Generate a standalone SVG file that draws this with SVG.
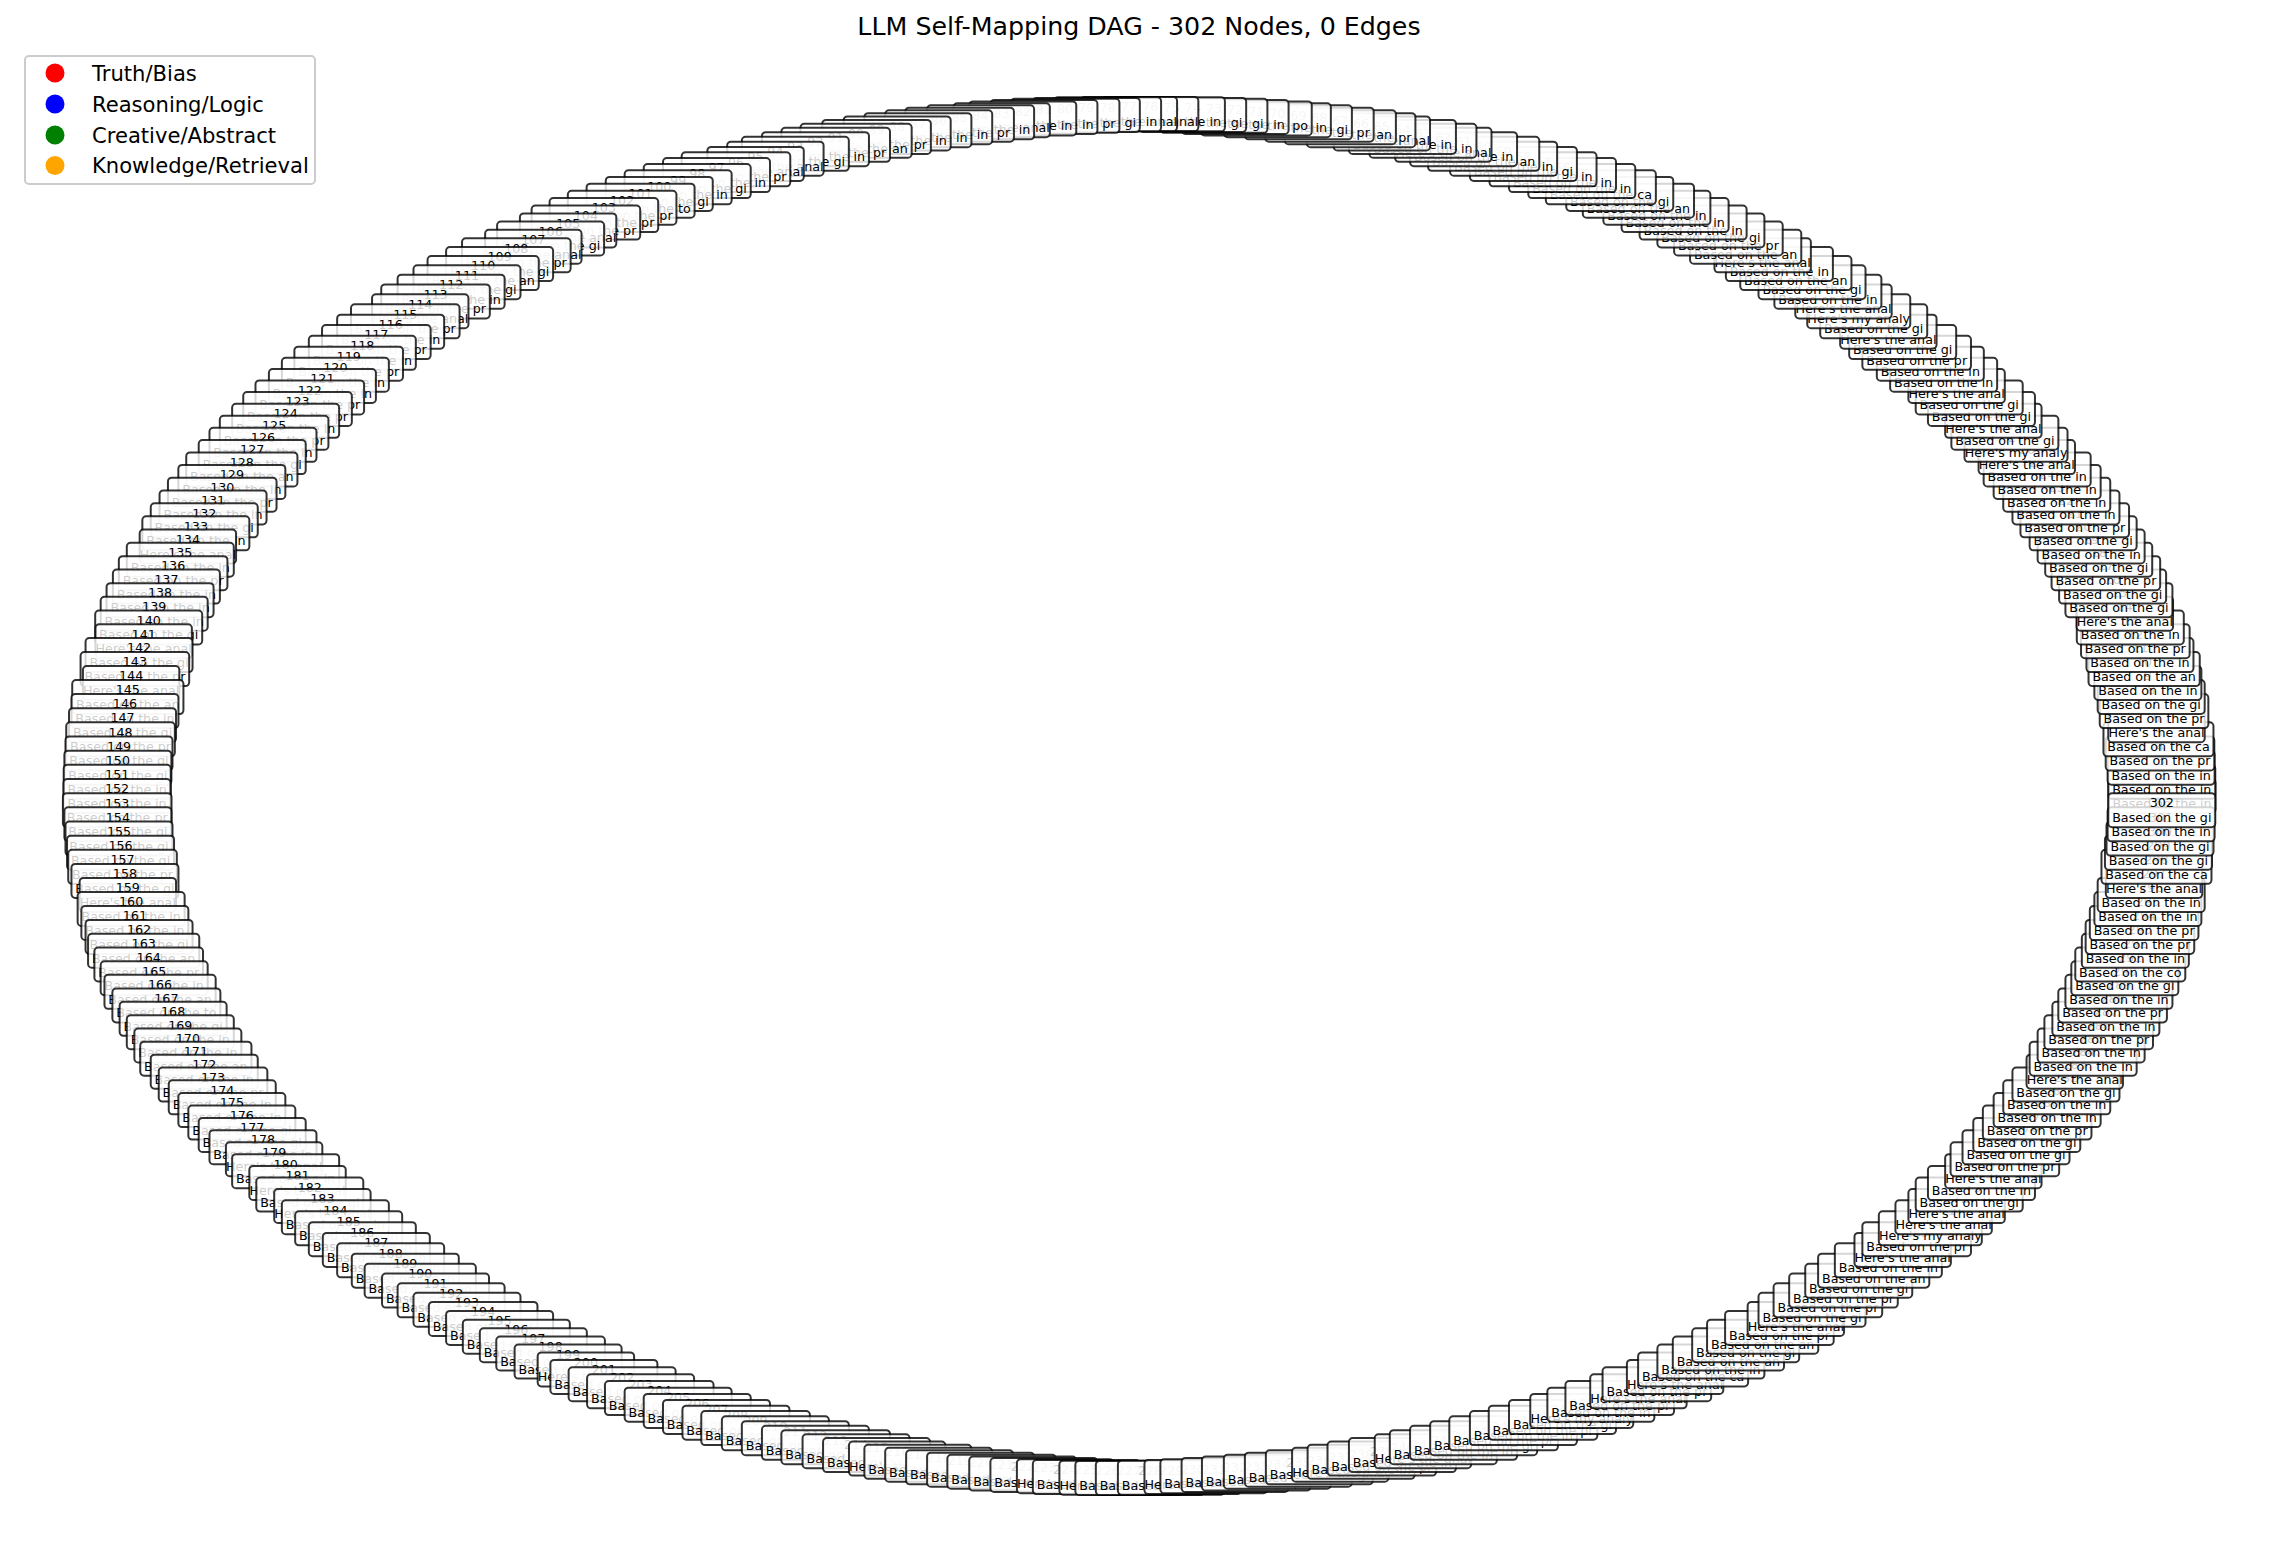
<svg xmlns="http://www.w3.org/2000/svg" xmlns:xlink="http://www.w3.org/1999/xlink" width="2280" height="1561" viewBox="0 0 2280 1561">
<style>
.b{fill:#fff;fill-opacity:.8;stroke:#000;stroke-opacity:.8;stroke-width:2}
.t{font-family:"DejaVu Sans",sans-serif;font-size:12.7px;text-anchor:middle;fill:#000}
.title{font-family:"DejaVu Sans",sans-serif;font-size:25.3px;text-anchor:middle;fill:#000}
.lg{font-family:"DejaVu Sans",sans-serif;font-size:21.1px;fill:#000}
.lbox{fill:#fff;fill-opacity:.8;stroke:#ccc;stroke-width:2}
</style>
<defs>
<g id="I"><rect class="b" x="-53.5" y="-17" width="107" height="34" rx="3.8"/><text class="t" y="12">Based on the in</text></g>
<g id="G"><rect class="b" x="-53.5" y="-17" width="107" height="34" rx="3.8"/><text class="t" y="12">Based on the gi</text></g>
<g id="P"><rect class="b" x="-54.3" y="-17" width="108.6" height="34" rx="3.8"/><text class="t" y="12">Based on the pr</text></g>
<g id="N"><rect class="b" x="-55.6" y="-17" width="111.2" height="34" rx="3.8"/><text class="t" y="12">Based on the an</text></g>
<g id="C"><rect class="b" x="-55" y="-17" width="110" height="34" rx="3.8"/><text class="t" y="12">Based on the ca</text></g>
<g id="T"><rect class="b" x="-54" y="-17" width="108" height="34" rx="3.8"/><text class="t" y="12">Based on the to</text></g>
<g id="O"><rect class="b" x="-55.5" y="-17" width="111" height="34" rx="3.8"/><text class="t" y="12">Based on the po</text></g>
<g id="K"><rect class="b" x="-55" y="-17" width="110" height="34" rx="3.8"/><text class="t" y="12">Based on the co</text></g>
<g id="H"><rect class="b" x="-48.2" y="-17" width="96.4" height="34" rx="3.8"/><text class="t" y="12">Here's the anal</text></g>
<g id="M"><rect class="b" x="-51.5" y="-17" width="103" height="34" rx="3.8"/><text class="t" y="12">Here's my analy</text></g>
</defs>
<rect width="2280" height="1561" fill="#fff"/>
<text class="title" x="1139" y="35">LLM Self-Mapping DAG - 302 Nodes, 0 Edges</text>
<g id="edges"></g>
<g id="nodes" transform="translate(1139.5 796) scale(1022.5 682)">
<g id="n1" transform="rotate(0)translate(1)rotate(0)scale(.000977995 .001466276)"><use href="#I"/><text class="t" y="-2.7">1</text></g>
<g id="n2" transform="rotate(-1.192)translate(1)rotate(1.192)scale(.000977995 .001466276)"><use href="#I"/><text class="t" y="-2.7">2</text></g>
<g id="n3" transform="rotate(-2.384)translate(1)rotate(2.384)scale(.000977995 .001466276)"><use href="#I"/><text class="t" y="-2.7">3</text></g>
<g id="n4" transform="rotate(-3.576)translate(1)rotate(3.576)scale(.000977995 .001466276)"><use href="#P"/><text class="t" y="-2.7">4</text></g>
<g id="n5" transform="rotate(-4.768)translate(1)rotate(4.768)scale(.000977995 .001466276)"><use href="#C"/><text class="t" y="-2.7">5</text></g>
<g id="n6" transform="rotate(-5.960)translate(1)rotate(5.960)scale(.000977995 .001466276)"><use href="#H"/><text class="t" y="-2.7">6</text></g>
<g id="n7" transform="rotate(-7.152)translate(1)rotate(7.152)scale(.000977995 .001466276)"><use href="#P"/><text class="t" y="-2.7">7</text></g>
<g id="n8" transform="rotate(-8.344)translate(1)rotate(8.344)scale(.000977995 .001466276)"><use href="#G"/><text class="t" y="-2.7">8</text></g>
<g id="n9" transform="rotate(-9.536)translate(1)rotate(9.536)scale(.000977995 .001466276)"><use href="#I"/><text class="t" y="-2.7">9</text></g>
<g id="n10" transform="rotate(-10.728)translate(1)rotate(10.728)scale(.000977995 .001466276)"><use href="#N"/><text class="t" y="-2.7">10</text></g>
<g id="n11" transform="rotate(-11.921)translate(1)rotate(11.921)scale(.000977995 .001466276)"><use href="#I"/><text class="t" y="-2.7">11</text></g>
<g id="n12" transform="rotate(-13.113)translate(1)rotate(13.113)scale(.000977995 .001466276)"><use href="#P"/><text class="t" y="-2.7">12</text></g>
<g id="n13" transform="rotate(-14.305)translate(1)rotate(14.305)scale(.000977995 .001466276)"><use href="#I"/><text class="t" y="-2.7">13</text></g>
<g id="n14" transform="rotate(-15.497)translate(1)rotate(15.497)scale(.000977995 .001466276)"><use href="#H"/><text class="t" y="-2.7">14</text></g>
<g id="n15" transform="rotate(-16.689)translate(1)rotate(16.689)scale(.000977995 .001466276)"><use href="#G"/><text class="t" y="-2.7">15</text></g>
<g id="n16" transform="rotate(-17.881)translate(1)rotate(17.881)scale(.000977995 .001466276)"><use href="#G"/><text class="t" y="-2.7">16</text></g>
<g id="n17" transform="rotate(-19.073)translate(1)rotate(19.073)scale(.000977995 .001466276)"><use href="#P"/><text class="t" y="-2.7">17</text></g>
<g id="n18" transform="rotate(-20.265)translate(1)rotate(20.265)scale(.000977995 .001466276)"><use href="#G"/><text class="t" y="-2.7">18</text></g>
<g id="n19" transform="rotate(-21.457)translate(1)rotate(21.457)scale(.000977995 .001466276)"><use href="#I"/><text class="t" y="-2.7">19</text></g>
<g id="n20" transform="rotate(-22.649)translate(1)rotate(22.649)scale(.000977995 .001466276)"><use href="#G"/><text class="t" y="-2.7">20</text></g>
<g id="n21" transform="rotate(-23.841)translate(1)rotate(23.841)scale(.000977995 .001466276)"><use href="#P"/><text class="t" y="-2.7">21</text></g>
<g id="n22" transform="rotate(-25.033)translate(1)rotate(25.033)scale(.000977995 .001466276)"><use href="#I"/><text class="t" y="-2.7">22</text></g>
<g id="n23" transform="rotate(-26.225)translate(1)rotate(26.225)scale(.000977995 .001466276)"><use href="#I"/><text class="t" y="-2.7">23</text></g>
<g id="n24" transform="rotate(-27.417)translate(1)rotate(27.417)scale(.000977995 .001466276)"><use href="#I"/><text class="t" y="-2.7">24</text></g>
<g id="n25" transform="rotate(-28.609)translate(1)rotate(28.609)scale(.000977995 .001466276)"><use href="#I"/><text class="t" y="-2.7">25</text></g>
<g id="n26" transform="rotate(-29.801)translate(1)rotate(29.801)scale(.000977995 .001466276)"><use href="#H"/><text class="t" y="-2.7">26</text></g>
<g id="n27" transform="rotate(-30.993)translate(1)rotate(30.993)scale(.000977995 .001466276)"><use href="#M"/><text class="t" y="-2.7">27</text></g>
<g id="n28" transform="rotate(-32.185)translate(1)rotate(32.185)scale(.000977995 .001466276)"><use href="#G"/><text class="t" y="-2.7">28</text></g>
<g id="n29" transform="rotate(-33.377)translate(1)rotate(33.377)scale(.000977995 .001466276)"><use href="#H"/><text class="t" y="-2.7">29</text></g>
<g id="n30" transform="rotate(-34.570)translate(1)rotate(34.570)scale(.000977995 .001466276)"><use href="#G"/><text class="t" y="-2.7">30</text></g>
<g id="n31" transform="rotate(-35.762)translate(1)rotate(35.762)scale(.000977995 .001466276)"><use href="#G"/><text class="t" y="-2.7">31</text></g>
<g id="n32" transform="rotate(-36.954)translate(1)rotate(36.954)scale(.000977995 .001466276)"><use href="#H"/><text class="t" y="-2.7">32</text></g>
<g id="n33" transform="rotate(-38.146)translate(1)rotate(38.146)scale(.000977995 .001466276)"><use href="#I"/><text class="t" y="-2.7">33</text></g>
<g id="n34" transform="rotate(-39.338)translate(1)rotate(39.338)scale(.000977995 .001466276)"><use href="#I"/><text class="t" y="-2.7">34</text></g>
<g id="n35" transform="rotate(-40.530)translate(1)rotate(40.530)scale(.000977995 .001466276)"><use href="#P"/><text class="t" y="-2.7">35</text></g>
<g id="n36" transform="rotate(-41.722)translate(1)rotate(41.722)scale(.000977995 .001466276)"><use href="#G"/><text class="t" y="-2.7">36</text></g>
<g id="n37" transform="rotate(-42.914)translate(1)rotate(42.914)scale(.000977995 .001466276)"><use href="#H"/><text class="t" y="-2.7">37</text></g>
<g id="n38" transform="rotate(-44.106)translate(1)rotate(44.106)scale(.000977995 .001466276)"><use href="#G"/><text class="t" y="-2.7">38</text></g>
<g id="n39" transform="rotate(-45.298)translate(1)rotate(45.298)scale(.000977995 .001466276)"><use href="#M"/><text class="t" y="-2.7">39</text></g>
<g id="n40" transform="rotate(-46.490)translate(1)rotate(46.490)scale(.000977995 .001466276)"><use href="#H"/><text class="t" y="-2.7">40</text></g>
<g id="n41" transform="rotate(-47.682)translate(1)rotate(47.682)scale(.000977995 .001466276)"><use href="#I"/><text class="t" y="-2.7">41</text></g>
<g id="n42" transform="rotate(-48.874)translate(1)rotate(48.874)scale(.000977995 .001466276)"><use href="#G"/><text class="t" y="-2.7">42</text></g>
<g id="n43" transform="rotate(-50.066)translate(1)rotate(50.066)scale(.000977995 .001466276)"><use href="#N"/><text class="t" y="-2.7">43</text></g>
<g id="n44" transform="rotate(-51.258)translate(1)rotate(51.258)scale(.000977995 .001466276)"><use href="#I"/><text class="t" y="-2.7">44</text></g>
<g id="n45" transform="rotate(-52.450)translate(1)rotate(52.450)scale(.000977995 .001466276)"><use href="#H"/><text class="t" y="-2.7">45</text></g>
<g id="n46" transform="rotate(-53.642)translate(1)rotate(53.642)scale(.000977995 .001466276)"><use href="#N"/><text class="t" y="-2.7">46</text></g>
<g id="n47" transform="rotate(-54.834)translate(1)rotate(54.834)scale(.000977995 .001466276)"><use href="#P"/><text class="t" y="-2.7">47</text></g>
<g id="n48" transform="rotate(-56.026)translate(1)rotate(56.026)scale(.000977995 .001466276)"><use href="#G"/><text class="t" y="-2.7">48</text></g>
<g id="n49" transform="rotate(-57.219)translate(1)rotate(57.219)scale(.000977995 .001466276)"><use href="#I"/><text class="t" y="-2.7">49</text></g>
<g id="n50" transform="rotate(-58.411)translate(1)rotate(58.411)scale(.000977995 .001466276)"><use href="#I"/><text class="t" y="-2.7">50</text></g>
<g id="n51" transform="rotate(-59.603)translate(1)rotate(59.603)scale(.000977995 .001466276)"><use href="#I"/><text class="t" y="-2.7">51</text></g>
<g id="n52" transform="rotate(-60.795)translate(1)rotate(60.795)scale(.000977995 .001466276)"><use href="#N"/><text class="t" y="-2.7">52</text></g>
<g id="n53" transform="rotate(-61.987)translate(1)rotate(61.987)scale(.000977995 .001466276)"><use href="#G"/><text class="t" y="-2.7">53</text></g>
<g id="n54" transform="rotate(-63.179)translate(1)rotate(63.179)scale(.000977995 .001466276)"><use href="#C"/><text class="t" y="-2.7">54</text></g>
<g id="n55" transform="rotate(-64.371)translate(1)rotate(64.371)scale(.000977995 .001466276)"><use href="#I"/><text class="t" y="-2.7">55</text></g>
<g id="n56" transform="rotate(-65.563)translate(1)rotate(65.563)scale(.000977995 .001466276)"><use href="#I"/><text class="t" y="-2.7">56</text></g>
<g id="n57" transform="rotate(-66.755)translate(1)rotate(66.755)scale(.000977995 .001466276)"><use href="#I"/><text class="t" y="-2.7">57</text></g>
<g id="n58" transform="rotate(-67.947)translate(1)rotate(67.947)scale(.000977995 .001466276)"><use href="#G"/><text class="t" y="-2.7">58</text></g>
<g id="n59" transform="rotate(-69.139)translate(1)rotate(69.139)scale(.000977995 .001466276)"><use href="#I"/><text class="t" y="-2.7">59</text></g>
<g id="n60" transform="rotate(-70.331)translate(1)rotate(70.331)scale(.000977995 .001466276)"><use href="#N"/><text class="t" y="-2.7">60</text></g>
<g id="n61" transform="rotate(-71.523)translate(1)rotate(71.523)scale(.000977995 .001466276)"><use href="#I"/><text class="t" y="-2.7">61</text></g>
<g id="n62" transform="rotate(-72.715)translate(1)rotate(72.715)scale(.000977995 .001466276)"><use href="#H"/><text class="t" y="-2.7">62</text></g>
<g id="n63" transform="rotate(-73.907)translate(1)rotate(73.907)scale(.000977995 .001466276)"><use href="#I"/><text class="t" y="-2.7">63</text></g>
<g id="n64" transform="rotate(-75.099)translate(1)rotate(75.099)scale(.000977995 .001466276)"><use href="#I"/><text class="t" y="-2.7">64</text></g>
<g id="n65" transform="rotate(-76.291)translate(1)rotate(76.291)scale(.000977995 .001466276)"><use href="#H"/><text class="t" y="-2.7">65</text></g>
<g id="n66" transform="rotate(-77.483)translate(1)rotate(77.483)scale(.000977995 .001466276)"><use href="#P"/><text class="t" y="-2.7">66</text></g>
<g id="n67" transform="rotate(-78.675)translate(1)rotate(78.675)scale(.000977995 .001466276)"><use href="#N"/><text class="t" y="-2.7">67</text></g>
<g id="n68" transform="rotate(-79.868)translate(1)rotate(79.868)scale(.000977995 .001466276)"><use href="#P"/><text class="t" y="-2.7">68</text></g>
<g id="n69" transform="rotate(-81.060)translate(1)rotate(81.060)scale(.000977995 .001466276)"><use href="#G"/><text class="t" y="-2.7">69</text></g>
<g id="n70" transform="rotate(-82.252)translate(1)rotate(82.252)scale(.000977995 .001466276)"><use href="#I"/><text class="t" y="-2.7">70</text></g>
<g id="n71" transform="rotate(-83.444)translate(1)rotate(83.444)scale(.000977995 .001466276)"><use href="#O"/><text class="t" y="-2.7">71</text></g>
<g id="n72" transform="rotate(-84.636)translate(1)rotate(84.636)scale(.000977995 .001466276)"><use href="#I"/><text class="t" y="-2.7">72</text></g>
<g id="n73" transform="rotate(-85.828)translate(1)rotate(85.828)scale(.000977995 .001466276)"><use href="#G"/><text class="t" y="-2.7">73</text></g>
<g id="n74" transform="rotate(-87.020)translate(1)rotate(87.020)scale(.000977995 .001466276)"><use href="#G"/><text class="t" y="-2.7">74</text></g>
<g id="n75" transform="rotate(-88.212)translate(1)rotate(88.212)scale(.000977995 .001466276)"><use href="#I"/><text class="t" y="-2.7">75</text></g>
<g id="n76" transform="rotate(-89.404)translate(1)rotate(89.404)scale(.000977995 .001466276)"><use href="#H"/><text class="t" y="-2.7">76</text></g>
<g id="n77" transform="rotate(-90.596)translate(1)rotate(90.596)scale(.000977995 .001466276)"><use href="#H"/><text class="t" y="-2.7">77</text></g>
<g id="n78" transform="rotate(-91.788)translate(1)rotate(91.788)scale(.000977995 .001466276)"><use href="#I"/><text class="t" y="-2.7">78</text></g>
<g id="n79" transform="rotate(-92.980)translate(1)rotate(92.980)scale(.000977995 .001466276)"><use href="#G"/><text class="t" y="-2.7">79</text></g>
<g id="n80" transform="rotate(-94.172)translate(1)rotate(94.172)scale(.000977995 .001466276)"><use href="#P"/><text class="t" y="-2.7">80</text></g>
<g id="n81" transform="rotate(-95.364)translate(1)rotate(95.364)scale(.000977995 .001466276)"><use href="#I"/><text class="t" y="-2.7">81</text></g>
<g id="n82" transform="rotate(-96.556)translate(1)rotate(96.556)scale(.000977995 .001466276)"><use href="#I"/><text class="t" y="-2.7">82</text></g>
<g id="n83" transform="rotate(-97.748)translate(1)rotate(97.748)scale(.000977995 .001466276)"><use href="#H"/><text class="t" y="-2.7">83</text></g>
<g id="n84" transform="rotate(-98.940)translate(1)rotate(98.940)scale(.000977995 .001466276)"><use href="#I"/><text class="t" y="-2.7">84</text></g>
<g id="n85" transform="rotate(-100.132)translate(1)rotate(100.132)scale(.000977995 .001466276)"><use href="#P"/><text class="t" y="-2.7">85</text></g>
<g id="n86" transform="rotate(-101.325)translate(1)rotate(101.325)scale(.000977995 .001466276)"><use href="#I"/><text class="t" y="-2.7">86</text></g>
<g id="n87" transform="rotate(-102.517)translate(1)rotate(102.517)scale(.000977995 .001466276)"><use href="#I"/><text class="t" y="-2.7">87</text></g>
<g id="n88" transform="rotate(-103.709)translate(1)rotate(103.709)scale(.000977995 .001466276)"><use href="#I"/><text class="t" y="-2.7">88</text></g>
<g id="n89" transform="rotate(-104.901)translate(1)rotate(104.901)scale(.000977995 .001466276)"><use href="#P"/><text class="t" y="-2.7">89</text></g>
<g id="n90" transform="rotate(-106.093)translate(1)rotate(106.093)scale(.000977995 .001466276)"><use href="#N"/><text class="t" y="-2.7">90</text></g>
<g id="n91" transform="rotate(-107.285)translate(1)rotate(107.285)scale(.000977995 .001466276)"><use href="#P"/><text class="t" y="-2.7">91</text></g>
<g id="n92" transform="rotate(-108.477)translate(1)rotate(108.477)scale(.000977995 .001466276)"><use href="#I"/><text class="t" y="-2.7">92</text></g>
<g id="n93" transform="rotate(-109.669)translate(1)rotate(109.669)scale(.000977995 .001466276)"><use href="#G"/><text class="t" y="-2.7">93</text></g>
<g id="n94" transform="rotate(-110.861)translate(1)rotate(110.861)scale(.000977995 .001466276)"><use href="#H"/><text class="t" y="-2.7">94</text></g>
<g id="n95" transform="rotate(-112.053)translate(1)rotate(112.053)scale(.000977995 .001466276)"><use href="#H"/><text class="t" y="-2.7">95</text></g>
<g id="n96" transform="rotate(-113.245)translate(1)rotate(113.245)scale(.000977995 .001466276)"><use href="#P"/><text class="t" y="-2.7">96</text></g>
<g id="n97" transform="rotate(-114.437)translate(1)rotate(114.437)scale(.000977995 .001466276)"><use href="#I"/><text class="t" y="-2.7">97</text></g>
<g id="n98" transform="rotate(-115.629)translate(1)rotate(115.629)scale(.000977995 .001466276)"><use href="#G"/><text class="t" y="-2.7">98</text></g>
<g id="n99" transform="rotate(-116.821)translate(1)rotate(116.821)scale(.000977995 .001466276)"><use href="#I"/><text class="t" y="-2.7">99</text></g>
<g id="n100" transform="rotate(-118.013)translate(1)rotate(118.013)scale(.000977995 .001466276)"><use href="#G"/><text class="t" y="-2.7">100</text></g>
<g id="n101" transform="rotate(-119.205)translate(1)rotate(119.205)scale(.000977995 .001466276)"><use href="#T"/><text class="t" y="-2.7">101</text></g>
<g id="n102" transform="rotate(-120.397)translate(1)rotate(120.397)scale(.000977995 .001466276)"><use href="#P"/><text class="t" y="-2.7">102</text></g>
<g id="n103" transform="rotate(-121.589)translate(1)rotate(121.589)scale(.000977995 .001466276)"><use href="#P"/><text class="t" y="-2.7">103</text></g>
<g id="n104" transform="rotate(-122.781)translate(1)rotate(122.781)scale(.000977995 .001466276)"><use href="#P"/><text class="t" y="-2.7">104</text></g>
<g id="n105" transform="rotate(-123.974)translate(1)rotate(123.974)scale(.000977995 .001466276)"><use href="#H"/><text class="t" y="-2.7">105</text></g>
<g id="n106" transform="rotate(-125.166)translate(1)rotate(125.166)scale(.000977995 .001466276)"><use href="#G"/><text class="t" y="-2.7">106</text></g>
<g id="n107" transform="rotate(-126.358)translate(1)rotate(126.358)scale(.000977995 .001466276)"><use href="#H"/><text class="t" y="-2.7">107</text></g>
<g id="n108" transform="rotate(-127.550)translate(1)rotate(127.550)scale(.000977995 .001466276)"><use href="#P"/><text class="t" y="-2.7">108</text></g>
<g id="n109" transform="rotate(-128.742)translate(1)rotate(128.742)scale(.000977995 .001466276)"><use href="#G"/><text class="t" y="-2.7">109</text></g>
<g id="n110" transform="rotate(-129.934)translate(1)rotate(129.934)scale(.000977995 .001466276)"><use href="#N"/><text class="t" y="-2.7">110</text></g>
<g id="n111" transform="rotate(-131.126)translate(1)rotate(131.126)scale(.000977995 .001466276)"><use href="#G"/><text class="t" y="-2.7">111</text></g>
<g id="n112" transform="rotate(-132.318)translate(1)rotate(132.318)scale(.000977995 .001466276)"><use href="#I"/><text class="t" y="-2.7">112</text></g>
<g id="n113" transform="rotate(-133.510)translate(1)rotate(133.510)scale(.000977995 .001466276)"><use href="#P"/><text class="t" y="-2.7">113</text></g>
<g id="n114" transform="rotate(-134.702)translate(1)rotate(134.702)scale(.000977995 .001466276)"><use href="#H"/><text class="t" y="-2.7">114</text></g>
<g id="n115" transform="rotate(-135.894)translate(1)rotate(135.894)scale(.000977995 .001466276)"><use href="#P"/><text class="t" y="-2.7">115</text></g>
<g id="n116" transform="rotate(-137.086)translate(1)rotate(137.086)scale(.000977995 .001466276)"><use href="#I"/><text class="t" y="-2.7">116</text></g>
<g id="n117" transform="rotate(-138.278)translate(1)rotate(138.278)scale(.000977995 .001466276)"><use href="#P"/><text class="t" y="-2.7">117</text></g>
<g id="n118" transform="rotate(-139.470)translate(1)rotate(139.470)scale(.000977995 .001466276)"><use href="#I"/><text class="t" y="-2.7">118</text></g>
<g id="n119" transform="rotate(-140.662)translate(1)rotate(140.662)scale(.000977995 .001466276)"><use href="#P"/><text class="t" y="-2.7">119</text></g>
<g id="n120" transform="rotate(-141.854)translate(1)rotate(141.854)scale(.000977995 .001466276)"><use href="#I"/><text class="t" y="-2.7">120</text></g>
<g id="n121" transform="rotate(-143.046)translate(1)rotate(143.046)scale(.000977995 .001466276)"><use href="#I"/><text class="t" y="-2.7">121</text></g>
<g id="n122" transform="rotate(-144.238)translate(1)rotate(144.238)scale(.000977995 .001466276)"><use href="#P"/><text class="t" y="-2.7">122</text></g>
<g id="n123" transform="rotate(-145.430)translate(1)rotate(145.430)scale(.000977995 .001466276)"><use href="#P"/><text class="t" y="-2.7">123</text></g>
<g id="n124" transform="rotate(-146.623)translate(1)rotate(146.623)scale(.000977995 .001466276)"><use href="#I"/><text class="t" y="-2.7">124</text></g>
<g id="n125" transform="rotate(-147.815)translate(1)rotate(147.815)scale(.000977995 .001466276)"><use href="#P"/><text class="t" y="-2.7">125</text></g>
<g id="n126" transform="rotate(-149.007)translate(1)rotate(149.007)scale(.000977995 .001466276)"><use href="#I"/><text class="t" y="-2.7">126</text></g>
<g id="n127" transform="rotate(-150.199)translate(1)rotate(150.199)scale(.000977995 .001466276)"><use href="#G"/><text class="t" y="-2.7">127</text></g>
<g id="n128" transform="rotate(-151.391)translate(1)rotate(151.391)scale(.000977995 .001466276)"><use href="#N"/><text class="t" y="-2.7">128</text></g>
<g id="n129" transform="rotate(-152.583)translate(1)rotate(152.583)scale(.000977995 .001466276)"><use href="#I"/><text class="t" y="-2.7">129</text></g>
<g id="n130" transform="rotate(-153.775)translate(1)rotate(153.775)scale(.000977995 .001466276)"><use href="#P"/><text class="t" y="-2.7">130</text></g>
<g id="n131" transform="rotate(-154.967)translate(1)rotate(154.967)scale(.000977995 .001466276)"><use href="#I"/><text class="t" y="-2.7">131</text></g>
<g id="n132" transform="rotate(-156.159)translate(1)rotate(156.159)scale(.000977995 .001466276)"><use href="#G"/><text class="t" y="-2.7">132</text></g>
<g id="n133" transform="rotate(-157.351)translate(1)rotate(157.351)scale(.000977995 .001466276)"><use href="#I"/><text class="t" y="-2.7">133</text></g>
<g id="n134" transform="rotate(-158.543)translate(1)rotate(158.543)scale(.000977995 .001466276)"><use href="#H"/><text class="t" y="-2.7">134</text></g>
<g id="n135" transform="rotate(-159.735)translate(1)rotate(159.735)scale(.000977995 .001466276)"><use href="#I"/><text class="t" y="-2.7">135</text></g>
<g id="n136" transform="rotate(-160.927)translate(1)rotate(160.927)scale(.000977995 .001466276)"><use href="#P"/><text class="t" y="-2.7">136</text></g>
<g id="n137" transform="rotate(-162.119)translate(1)rotate(162.119)scale(.000977995 .001466276)"><use href="#I"/><text class="t" y="-2.7">137</text></g>
<g id="n138" transform="rotate(-163.311)translate(1)rotate(163.311)scale(.000977995 .001466276)"><use href="#I"/><text class="t" y="-2.7">138</text></g>
<g id="n139" transform="rotate(-164.503)translate(1)rotate(164.503)scale(.000977995 .001466276)"><use href="#I"/><text class="t" y="-2.7">139</text></g>
<g id="n140" transform="rotate(-165.695)translate(1)rotate(165.695)scale(.000977995 .001466276)"><use href="#G"/><text class="t" y="-2.7">140</text></g>
<g id="n141" transform="rotate(-166.887)translate(1)rotate(166.887)scale(.000977995 .001466276)"><use href="#H"/><text class="t" y="-2.7">141</text></g>
<g id="n142" transform="rotate(-168.079)translate(1)rotate(168.079)scale(.000977995 .001466276)"><use href="#G"/><text class="t" y="-2.7">142</text></g>
<g id="n143" transform="rotate(-169.272)translate(1)rotate(169.272)scale(.000977995 .001466276)"><use href="#P"/><text class="t" y="-2.7">143</text></g>
<g id="n144" transform="rotate(-170.464)translate(1)rotate(170.464)scale(.000977995 .001466276)"><use href="#H"/><text class="t" y="-2.7">144</text></g>
<g id="n145" transform="rotate(-171.656)translate(1)rotate(171.656)scale(.000977995 .001466276)"><use href="#N"/><text class="t" y="-2.7">145</text></g>
<g id="n146" transform="rotate(-172.848)translate(1)rotate(172.848)scale(.000977995 .001466276)"><use href="#I"/><text class="t" y="-2.7">146</text></g>
<g id="n147" transform="rotate(-174.040)translate(1)rotate(174.040)scale(.000977995 .001466276)"><use href="#G"/><text class="t" y="-2.7">147</text></g>
<g id="n148" transform="rotate(-175.232)translate(1)rotate(175.232)scale(.000977995 .001466276)"><use href="#P"/><text class="t" y="-2.7">148</text></g>
<g id="n149" transform="rotate(-176.424)translate(1)rotate(176.424)scale(.000977995 .001466276)"><use href="#G"/><text class="t" y="-2.7">149</text></g>
<g id="n150" transform="rotate(-177.616)translate(1)rotate(177.616)scale(.000977995 .001466276)"><use href="#G"/><text class="t" y="-2.7">150</text></g>
<g id="n151" transform="rotate(-178.808)translate(1)rotate(178.808)scale(.000977995 .001466276)"><use href="#I"/><text class="t" y="-2.7">151</text></g>
<g id="n152" transform="rotate(-180)translate(1)rotate(180)scale(.000977995 .001466276)"><use href="#I"/><text class="t" y="-2.7">152</text></g>
<g id="n153" transform="rotate(-181.192)translate(1)rotate(181.192)scale(.000977995 .001466276)"><use href="#P"/><text class="t" y="-2.7">153</text></g>
<g id="n154" transform="rotate(-182.384)translate(1)rotate(182.384)scale(.000977995 .001466276)"><use href="#G"/><text class="t" y="-2.7">154</text></g>
<g id="n155" transform="rotate(-183.576)translate(1)rotate(183.576)scale(.000977995 .001466276)"><use href="#G"/><text class="t" y="-2.7">155</text></g>
<g id="n156" transform="rotate(-184.768)translate(1)rotate(184.768)scale(.000977995 .001466276)"><use href="#G"/><text class="t" y="-2.7">156</text></g>
<g id="n157" transform="rotate(-185.960)translate(1)rotate(185.960)scale(.000977995 .001466276)"><use href="#P"/><text class="t" y="-2.7">157</text></g>
<g id="n158" transform="rotate(-187.152)translate(1)rotate(187.152)scale(.000977995 .001466276)"><use href="#G"/><text class="t" y="-2.7">158</text></g>
<g id="n159" transform="rotate(-188.344)translate(1)rotate(188.344)scale(.000977995 .001466276)"><use href="#H"/><text class="t" y="-2.7">159</text></g>
<g id="n160" transform="rotate(-189.536)translate(1)rotate(189.536)scale(.000977995 .001466276)"><use href="#I"/><text class="t" y="-2.7">160</text></g>
<g id="n161" transform="rotate(-190.728)translate(1)rotate(190.728)scale(.000977995 .001466276)"><use href="#I"/><text class="t" y="-2.7">161</text></g>
<g id="n162" transform="rotate(-191.921)translate(1)rotate(191.921)scale(.000977995 .001466276)"><use href="#G"/><text class="t" y="-2.7">162</text></g>
<g id="n163" transform="rotate(-193.113)translate(1)rotate(193.113)scale(.000977995 .001466276)"><use href="#N"/><text class="t" y="-2.7">163</text></g>
<g id="n164" transform="rotate(-194.305)translate(1)rotate(194.305)scale(.000977995 .001466276)"><use href="#P"/><text class="t" y="-2.7">164</text></g>
<g id="n165" transform="rotate(-195.497)translate(1)rotate(195.497)scale(.000977995 .001466276)"><use href="#I"/><text class="t" y="-2.7">165</text></g>
<g id="n166" transform="rotate(-196.689)translate(1)rotate(196.689)scale(.000977995 .001466276)"><use href="#N"/><text class="t" y="-2.7">166</text></g>
<g id="n167" transform="rotate(-197.881)translate(1)rotate(197.881)scale(.000977995 .001466276)"><use href="#T"/><text class="t" y="-2.7">167</text></g>
<g id="n168" transform="rotate(-199.073)translate(1)rotate(199.073)scale(.000977995 .001466276)"><use href="#G"/><text class="t" y="-2.7">168</text></g>
<g id="n169" transform="rotate(-200.265)translate(1)rotate(200.265)scale(.000977995 .001466276)"><use href="#I"/><text class="t" y="-2.7">169</text></g>
<g id="n170" transform="rotate(-201.457)translate(1)rotate(201.457)scale(.000977995 .001466276)"><use href="#I"/><text class="t" y="-2.7">170</text></g>
<g id="n171" transform="rotate(-202.649)translate(1)rotate(202.649)scale(.000977995 .001466276)"><use href="#N"/><text class="t" y="-2.7">171</text></g>
<g id="n172" transform="rotate(-203.841)translate(1)rotate(203.841)scale(.000977995 .001466276)"><use href="#I"/><text class="t" y="-2.7">172</text></g>
<g id="n173" transform="rotate(-205.033)translate(1)rotate(205.033)scale(.000977995 .001466276)"><use href="#P"/><text class="t" y="-2.7">173</text></g>
<g id="n174" transform="rotate(-206.225)translate(1)rotate(206.225)scale(.000977995 .001466276)"><use href="#I"/><text class="t" y="-2.7">174</text></g>
<g id="n175" transform="rotate(-207.417)translate(1)rotate(207.417)scale(.000977995 .001466276)"><use href="#I"/><text class="t" y="-2.7">175</text></g>
<g id="n176" transform="rotate(-208.609)translate(1)rotate(208.609)scale(.000977995 .001466276)"><use href="#G"/><text class="t" y="-2.7">176</text></g>
<g id="n177" transform="rotate(-209.801)translate(1)rotate(209.801)scale(.000977995 .001466276)"><use href="#G"/><text class="t" y="-2.7">177</text></g>
<g id="n178" transform="rotate(-210.993)translate(1)rotate(210.993)scale(.000977995 .001466276)"><use href="#I"/><text class="t" y="-2.7">178</text></g>
<g id="n179" transform="rotate(-212.185)translate(1)rotate(212.185)scale(.000977995 .001466276)"><use href="#H"/><text class="t" y="-2.7">179</text></g>
<g id="n180" transform="rotate(-213.377)translate(1)rotate(213.377)scale(.000977995 .001466276)"><use href="#I"/><text class="t" y="-2.7">180</text></g>
<g id="n181" transform="rotate(-214.570)translate(1)rotate(214.570)scale(.000977995 .001466276)"><use href="#H"/><text class="t" y="-2.7">181</text></g>
<g id="n182" transform="rotate(-215.762)translate(1)rotate(215.762)scale(.000977995 .001466276)"><use href="#G"/><text class="t" y="-2.7">182</text></g>
<g id="n183" transform="rotate(-216.954)translate(1)rotate(216.954)scale(.000977995 .001466276)"><use href="#H"/><text class="t" y="-2.7">183</text></g>
<g id="n184" transform="rotate(-218.146)translate(1)rotate(218.146)scale(.000977995 .001466276)"><use href="#I"/><text class="t" y="-2.7">184</text></g>
<g id="n185" transform="rotate(-219.338)translate(1)rotate(219.338)scale(.000977995 .001466276)"><use href="#I"/><text class="t" y="-2.7">185</text></g>
<g id="n186" transform="rotate(-220.530)translate(1)rotate(220.530)scale(.000977995 .001466276)"><use href="#I"/><text class="t" y="-2.7">186</text></g>
<g id="n187" transform="rotate(-221.722)translate(1)rotate(221.722)scale(.000977995 .001466276)"><use href="#I"/><text class="t" y="-2.7">187</text></g>
<g id="n188" transform="rotate(-222.914)translate(1)rotate(222.914)scale(.000977995 .001466276)"><use href="#I"/><text class="t" y="-2.7">188</text></g>
<g id="n189" transform="rotate(-224.106)translate(1)rotate(224.106)scale(.000977995 .001466276)"><use href="#I"/><text class="t" y="-2.7">189</text></g>
<g id="n190" transform="rotate(-225.298)translate(1)rotate(225.298)scale(.000977995 .001466276)"><use href="#N"/><text class="t" y="-2.7">190</text></g>
<g id="n191" transform="rotate(-226.490)translate(1)rotate(226.490)scale(.000977995 .001466276)"><use href="#I"/><text class="t" y="-2.7">191</text></g>
<g id="n192" transform="rotate(-227.682)translate(1)rotate(227.682)scale(.000977995 .001466276)"><use href="#G"/><text class="t" y="-2.7">192</text></g>
<g id="n193" transform="rotate(-228.874)translate(1)rotate(228.874)scale(.000977995 .001466276)"><use href="#I"/><text class="t" y="-2.7">193</text></g>
<g id="n194" transform="rotate(-230.066)translate(1)rotate(230.066)scale(.000977995 .001466276)"><use href="#P"/><text class="t" y="-2.7">194</text></g>
<g id="n195" transform="rotate(-231.258)translate(1)rotate(231.258)scale(.000977995 .001466276)"><use href="#I"/><text class="t" y="-2.7">195</text></g>
<g id="n196" transform="rotate(-232.450)translate(1)rotate(232.450)scale(.000977995 .001466276)"><use href="#G"/><text class="t" y="-2.7">196</text></g>
<g id="n197" transform="rotate(-233.642)translate(1)rotate(233.642)scale(.000977995 .001466276)"><use href="#I"/><text class="t" y="-2.7">197</text></g>
<g id="n198" transform="rotate(-234.834)translate(1)rotate(234.834)scale(.000977995 .001466276)"><use href="#P"/><text class="t" y="-2.7">198</text></g>
<g id="n199" transform="rotate(-236.026)translate(1)rotate(236.026)scale(.000977995 .001466276)"><use href="#I"/><text class="t" y="-2.7">199</text></g>
<g id="n200" transform="rotate(-237.219)translate(1)rotate(237.219)scale(.000977995 .001466276)"><use href="#H"/><text class="t" y="-2.7">200</text></g>
<g id="n201" transform="rotate(-238.411)translate(1)rotate(238.411)scale(.000977995 .001466276)"><use href="#I"/><text class="t" y="-2.7">201</text></g>
<g id="n202" transform="rotate(-239.603)translate(1)rotate(239.603)scale(.000977995 .001466276)"><use href="#G"/><text class="t" y="-2.7">202</text></g>
<g id="n203" transform="rotate(-240.795)translate(1)rotate(240.795)scale(.000977995 .001466276)"><use href="#I"/><text class="t" y="-2.7">203</text></g>
<g id="n204" transform="rotate(-241.987)translate(1)rotate(241.987)scale(.000977995 .001466276)"><use href="#P"/><text class="t" y="-2.7">204</text></g>
<g id="n205" transform="rotate(-243.179)translate(1)rotate(243.179)scale(.000977995 .001466276)"><use href="#I"/><text class="t" y="-2.7">205</text></g>
<g id="n206" transform="rotate(-244.371)translate(1)rotate(244.371)scale(.000977995 .001466276)"><use href="#G"/><text class="t" y="-2.7">206</text></g>
<g id="n207" transform="rotate(-245.563)translate(1)rotate(245.563)scale(.000977995 .001466276)"><use href="#I"/><text class="t" y="-2.7">207</text></g>
<g id="n208" transform="rotate(-246.755)translate(1)rotate(246.755)scale(.000977995 .001466276)"><use href="#I"/><text class="t" y="-2.7">208</text></g>
<g id="n209" transform="rotate(-247.947)translate(1)rotate(247.947)scale(.000977995 .001466276)"><use href="#P"/><text class="t" y="-2.7">209</text></g>
<g id="n210" transform="rotate(-249.139)translate(1)rotate(249.139)scale(.000977995 .001466276)"><use href="#I"/><text class="t" y="-2.7">210</text></g>
<g id="n211" transform="rotate(-250.331)translate(1)rotate(250.331)scale(.000977995 .001466276)"><use href="#G"/><text class="t" y="-2.7">211</text></g>
<g id="n212" transform="rotate(-251.523)translate(1)rotate(251.523)scale(.000977995 .001466276)"><use href="#I"/><text class="t" y="-2.7">212</text></g>
<g id="n213" transform="rotate(-252.715)translate(1)rotate(252.715)scale(.000977995 .001466276)"><use href="#P"/><text class="t" y="-2.7">213</text></g>
<g id="n214" transform="rotate(-253.907)translate(1)rotate(253.907)scale(.000977995 .001466276)"><use href="#I"/><text class="t" y="-2.7">214</text></g>
<g id="n215" transform="rotate(-255.099)translate(1)rotate(255.099)scale(.000977995 .001466276)"><use href="#G"/><text class="t" y="-2.7">215</text></g>
<g id="n216" transform="rotate(-256.291)translate(1)rotate(256.291)scale(.000977995 .001466276)"><use href="#H"/><text class="t" y="-2.7">216</text></g>
<g id="n217" transform="rotate(-257.483)translate(1)rotate(257.483)scale(.000977995 .001466276)"><use href="#I"/><text class="t" y="-2.7">217</text></g>
<g id="n218" transform="rotate(-258.675)translate(1)rotate(258.675)scale(.000977995 .001466276)"><use href="#I"/><text class="t" y="-2.7">218</text></g>
<g id="n219" transform="rotate(-259.868)translate(1)rotate(259.868)scale(.000977995 .001466276)"><use href="#G"/><text class="t" y="-2.7">219</text></g>
<g id="n220" transform="rotate(-261.060)translate(1)rotate(261.060)scale(.000977995 .001466276)"><use href="#I"/><text class="t" y="-2.7">220</text></g>
<g id="n221" transform="rotate(-262.252)translate(1)rotate(262.252)scale(.000977995 .001466276)"><use href="#P"/><text class="t" y="-2.7">221</text></g>
<g id="n222" transform="rotate(-263.444)translate(1)rotate(263.444)scale(.000977995 .001466276)"><use href="#I"/><text class="t" y="-2.7">222</text></g>
<g id="n223" transform="rotate(-264.636)translate(1)rotate(264.636)scale(.000977995 .001466276)"><use href="#G"/><text class="t" y="-2.7">223</text></g>
<g id="n224" transform="rotate(-265.828)translate(1)rotate(265.828)scale(.000977995 .001466276)"><use href="#H"/><text class="t" y="-2.7">224</text></g>
<g id="n225" transform="rotate(-267.020)translate(1)rotate(267.020)scale(.000977995 .001466276)"><use href="#I"/><text class="t" y="-2.7">225</text></g>
<g id="n226" transform="rotate(-268.212)translate(1)rotate(268.212)scale(.000977995 .001466276)"><use href="#H"/><text class="t" y="-2.7">226</text></g>
<g id="n227" transform="rotate(-269.404)translate(1)rotate(269.404)scale(.000977995 .001466276)"><use href="#I"/><text class="t" y="-2.7">227</text></g>
<g id="n228" transform="rotate(-270.596)translate(1)rotate(270.596)scale(.000977995 .001466276)"><use href="#P"/><text class="t" y="-2.7">228</text></g>
<g id="n229" transform="rotate(-271.788)translate(1)rotate(271.788)scale(.000977995 .001466276)"><use href="#I"/><text class="t" y="-2.7">229</text></g>
<g id="n230" transform="rotate(-272.980)translate(1)rotate(272.980)scale(.000977995 .001466276)"><use href="#H"/><text class="t" y="-2.7">230</text></g>
<g id="n231" transform="rotate(-274.172)translate(1)rotate(274.172)scale(.000977995 .001466276)"><use href="#I"/><text class="t" y="-2.7">231</text></g>
<g id="n232" transform="rotate(-275.364)translate(1)rotate(275.364)scale(.000977995 .001466276)"><use href="#G"/><text class="t" y="-2.7">232</text></g>
<g id="n233" transform="rotate(-276.556)translate(1)rotate(276.556)scale(.000977995 .001466276)"><use href="#P"/><text class="t" y="-2.7">233</text></g>
<g id="n234" transform="rotate(-277.748)translate(1)rotate(277.748)scale(.000977995 .001466276)"><use href="#I"/><text class="t" y="-2.7">234</text></g>
<g id="n235" transform="rotate(-278.940)translate(1)rotate(278.940)scale(.000977995 .001466276)"><use href="#I"/><text class="t" y="-2.7">235</text></g>
<g id="n236" transform="rotate(-280.132)translate(1)rotate(280.132)scale(.000977995 .001466276)"><use href="#G"/><text class="t" y="-2.7">236</text></g>
<g id="n237" transform="rotate(-281.325)translate(1)rotate(281.325)scale(.000977995 .001466276)"><use href="#H"/><text class="t" y="-2.7">237</text></g>
<g id="n238" transform="rotate(-282.517)translate(1)rotate(282.517)scale(.000977995 .001466276)"><use href="#I"/><text class="t" y="-2.7">238</text></g>
<g id="n239" transform="rotate(-283.709)translate(1)rotate(283.709)scale(.000977995 .001466276)"><use href="#P"/><text class="t" y="-2.7">239</text></g>
<g id="n240" transform="rotate(-284.901)translate(1)rotate(284.901)scale(.000977995 .001466276)"><use href="#I"/><text class="t" y="-2.7">240</text></g>
<g id="n241" transform="rotate(-286.093)translate(1)rotate(286.093)scale(.000977995 .001466276)"><use href="#H"/><text class="t" y="-2.7">241</text></g>
<g id="n242" transform="rotate(-287.285)translate(1)rotate(287.285)scale(.000977995 .001466276)"><use href="#I"/><text class="t" y="-2.7">242</text></g>
<g id="n243" transform="rotate(-288.477)translate(1)rotate(288.477)scale(.000977995 .001466276)"><use href="#I"/><text class="t" y="-2.7">243</text></g>
<g id="n244" transform="rotate(-289.669)translate(1)rotate(289.669)scale(.000977995 .001466276)"><use href="#G"/><text class="t" y="-2.7">244</text></g>
<g id="n245" transform="rotate(-290.861)translate(1)rotate(290.861)scale(.000977995 .001466276)"><use href="#P"/><text class="t" y="-2.7">245</text></g>
<g id="n246" transform="rotate(-292.053)translate(1)rotate(292.053)scale(.000977995 .001466276)"><use href="#I"/><text class="t" y="-2.7">246</text></g>
<g id="n247" transform="rotate(-293.245)translate(1)rotate(293.245)scale(.000977995 .001466276)"><use href="#P"/><text class="t" y="-2.7">247</text></g>
<g id="n248" transform="rotate(-294.437)translate(1)rotate(294.437)scale(.000977995 .001466276)"><use href="#G"/><text class="t" y="-2.7">248</text></g>
<g id="n249" transform="rotate(-295.629)translate(1)rotate(295.629)scale(.000977995 .001466276)"><use href="#M"/><text class="t" y="-2.7">249</text></g>
<g id="n250" transform="rotate(-296.821)translate(1)rotate(296.821)scale(.000977995 .001466276)"><use href="#I"/><text class="t" y="-2.7">250</text></g>
<g id="n251" transform="rotate(-298.013)translate(1)rotate(298.013)scale(.000977995 .001466276)"><use href="#P"/><text class="t" y="-2.7">251</text></g>
<g id="n252" transform="rotate(-299.205)translate(1)rotate(299.205)scale(.000977995 .001466276)"><use href="#H"/><text class="t" y="-2.7">252</text></g>
<g id="n253" transform="rotate(-300.397)translate(1)rotate(300.397)scale(.000977995 .001466276)"><use href="#P"/><text class="t" y="-2.7">253</text></g>
<g id="n254" transform="rotate(-301.589)translate(1)rotate(301.589)scale(.000977995 .001466276)"><use href="#H"/><text class="t" y="-2.7">254</text></g>
<g id="n255" transform="rotate(-302.781)translate(1)rotate(302.781)scale(.000977995 .001466276)"><use href="#C"/><text class="t" y="-2.7">255</text></g>
<g id="n256" transform="rotate(-303.974)translate(1)rotate(303.974)scale(.000977995 .001466276)"><use href="#I"/><text class="t" y="-2.7">256</text></g>
<g id="n257" transform="rotate(-305.166)translate(1)rotate(305.166)scale(.000977995 .001466276)"><use href="#N"/><text class="t" y="-2.7">257</text></g>
<g id="n258" transform="rotate(-306.358)translate(1)rotate(306.358)scale(.000977995 .001466276)"><use href="#G"/><text class="t" y="-2.7">258</text></g>
<g id="n259" transform="rotate(-307.550)translate(1)rotate(307.550)scale(.000977995 .001466276)"><use href="#N"/><text class="t" y="-2.7">259</text></g>
<g id="n260" transform="rotate(-308.742)translate(1)rotate(308.742)scale(.000977995 .001466276)"><use href="#P"/><text class="t" y="-2.7">260</text></g>
<g id="n261" transform="rotate(-309.934)translate(1)rotate(309.934)scale(.000977995 .001466276)"><use href="#H"/><text class="t" y="-2.7">261</text></g>
<g id="n262" transform="rotate(-311.126)translate(1)rotate(311.126)scale(.000977995 .001466276)"><use href="#G"/><text class="t" y="-2.7">262</text></g>
<g id="n263" transform="rotate(-312.318)translate(1)rotate(312.318)scale(.000977995 .001466276)"><use href="#P"/><text class="t" y="-2.7">263</text></g>
<g id="n264" transform="rotate(-313.510)translate(1)rotate(313.510)scale(.000977995 .001466276)"><use href="#P"/><text class="t" y="-2.7">264</text></g>
<g id="n265" transform="rotate(-314.702)translate(1)rotate(314.702)scale(.000977995 .001466276)"><use href="#G"/><text class="t" y="-2.7">265</text></g>
<g id="n266" transform="rotate(-315.894)translate(1)rotate(315.894)scale(.000977995 .001466276)"><use href="#N"/><text class="t" y="-2.7">266</text></g>
<g id="n267" transform="rotate(-317.086)translate(1)rotate(317.086)scale(.000977995 .001466276)"><use href="#I"/><text class="t" y="-2.7">267</text></g>
<g id="n268" transform="rotate(-318.278)translate(1)rotate(318.278)scale(.000977995 .001466276)"><use href="#H"/><text class="t" y="-2.7">268</text></g>
<g id="n269" transform="rotate(-319.470)translate(1)rotate(319.470)scale(.000977995 .001466276)"><use href="#P"/><text class="t" y="-2.7">269</text></g>
<g id="n270" transform="rotate(-320.662)translate(1)rotate(320.662)scale(.000977995 .001466276)"><use href="#M"/><text class="t" y="-2.7">270</text></g>
<g id="n271" transform="rotate(-321.854)translate(1)rotate(321.854)scale(.000977995 .001466276)"><use href="#H"/><text class="t" y="-2.7">271</text></g>
<g id="n272" transform="rotate(-323.046)translate(1)rotate(323.046)scale(.000977995 .001466276)"><use href="#H"/><text class="t" y="-2.7">272</text></g>
<g id="n273" transform="rotate(-324.238)translate(1)rotate(324.238)scale(.000977995 .001466276)"><use href="#G"/><text class="t" y="-2.7">273</text></g>
<g id="n274" transform="rotate(-325.430)translate(1)rotate(325.430)scale(.000977995 .001466276)"><use href="#I"/><text class="t" y="-2.7">274</text></g>
<g id="n275" transform="rotate(-326.623)translate(1)rotate(326.623)scale(.000977995 .001466276)"><use href="#H"/><text class="t" y="-2.7">275</text></g>
<g id="n276" transform="rotate(-327.815)translate(1)rotate(327.815)scale(.000977995 .001466276)"><use href="#P"/><text class="t" y="-2.7">276</text></g>
<g id="n277" transform="rotate(-329.007)translate(1)rotate(329.007)scale(.000977995 .001466276)"><use href="#G"/><text class="t" y="-2.7">277</text></g>
<g id="n278" transform="rotate(-330.199)translate(1)rotate(330.199)scale(.000977995 .001466276)"><use href="#G"/><text class="t" y="-2.7">278</text></g>
<g id="n279" transform="rotate(-331.391)translate(1)rotate(331.391)scale(.000977995 .001466276)"><use href="#P"/><text class="t" y="-2.7">279</text></g>
<g id="n280" transform="rotate(-332.583)translate(1)rotate(332.583)scale(.000977995 .001466276)"><use href="#I"/><text class="t" y="-2.7">280</text></g>
<g id="n281" transform="rotate(-333.775)translate(1)rotate(333.775)scale(.000977995 .001466276)"><use href="#I"/><text class="t" y="-2.7">281</text></g>
<g id="n282" transform="rotate(-334.967)translate(1)rotate(334.967)scale(.000977995 .001466276)"><use href="#G"/><text class="t" y="-2.7">282</text></g>
<g id="n283" transform="rotate(-336.159)translate(1)rotate(336.159)scale(.000977995 .001466276)"><use href="#H"/><text class="t" y="-2.7">283</text></g>
<g id="n284" transform="rotate(-337.351)translate(1)rotate(337.351)scale(.000977995 .001466276)"><use href="#I"/><text class="t" y="-2.7">284</text></g>
<g id="n285" transform="rotate(-338.543)translate(1)rotate(338.543)scale(.000977995 .001466276)"><use href="#I"/><text class="t" y="-2.7">285</text></g>
<g id="n286" transform="rotate(-339.735)translate(1)rotate(339.735)scale(.000977995 .001466276)"><use href="#P"/><text class="t" y="-2.7">286</text></g>
<g id="n287" transform="rotate(-340.927)translate(1)rotate(340.927)scale(.000977995 .001466276)"><use href="#I"/><text class="t" y="-2.7">287</text></g>
<g id="n288" transform="rotate(-342.119)translate(1)rotate(342.119)scale(.000977995 .001466276)"><use href="#P"/><text class="t" y="-2.7">288</text></g>
<g id="n289" transform="rotate(-343.311)translate(1)rotate(343.311)scale(.000977995 .001466276)"><use href="#I"/><text class="t" y="-2.7">289</text></g>
<g id="n290" transform="rotate(-344.503)translate(1)rotate(344.503)scale(.000977995 .001466276)"><use href="#G"/><text class="t" y="-2.7">290</text></g>
<g id="n291" transform="rotate(-345.695)translate(1)rotate(345.695)scale(.000977995 .001466276)"><use href="#K"/><text class="t" y="-2.7">291</text></g>
<g id="n292" transform="rotate(-346.887)translate(1)rotate(346.887)scale(.000977995 .001466276)"><use href="#I"/><text class="t" y="-2.7">292</text></g>
<g id="n293" transform="rotate(-348.079)translate(1)rotate(348.079)scale(.000977995 .001466276)"><use href="#P"/><text class="t" y="-2.7">293</text></g>
<g id="n294" transform="rotate(-349.272)translate(1)rotate(349.272)scale(.000977995 .001466276)"><use href="#P"/><text class="t" y="-2.7">294</text></g>
<g id="n295" transform="rotate(-350.464)translate(1)rotate(350.464)scale(.000977995 .001466276)"><use href="#I"/><text class="t" y="-2.7">295</text></g>
<g id="n296" transform="rotate(-351.656)translate(1)rotate(351.656)scale(.000977995 .001466276)"><use href="#I"/><text class="t" y="-2.7">296</text></g>
<g id="n297" transform="rotate(-352.848)translate(1)rotate(352.848)scale(.000977995 .001466276)"><use href="#H"/><text class="t" y="-2.7">297</text></g>
<g id="n298" transform="rotate(-354.040)translate(1)rotate(354.040)scale(.000977995 .001466276)"><use href="#C"/><text class="t" y="-2.7">298</text></g>
<g id="n299" transform="rotate(-355.232)translate(1)rotate(355.232)scale(.000977995 .001466276)"><use href="#G"/><text class="t" y="-2.7">299</text></g>
<g id="n300" transform="rotate(-356.424)translate(1)rotate(356.424)scale(.000977995 .001466276)"><use href="#G"/><text class="t" y="-2.7">300</text></g>
<g id="n301" transform="rotate(-357.616)translate(1)rotate(357.616)scale(.000977995 .001466276)"><use href="#I"/><text class="t" y="-2.7">301</text></g>
<g id="n302" transform="rotate(-358.808)translate(1)rotate(358.808)scale(.000977995 .001466276)"><use href="#G"/><text class="t" y="-2.7">302</text></g>
</g>
<g id="legend">
<rect class="lbox" x="25" y="56" width="290" height="128" rx="4"/>
<circle cx="55" cy="73" r="9.5" fill="#ff0000"/>
<text class="lg" x="92" y="80.7">Truth/Bias</text>
<circle cx="55" cy="104" r="9.5" fill="#0000ff"/>
<text class="lg" x="92" y="111.7">Reasoning/Logic</text>
<circle cx="55" cy="135" r="9.5" fill="#008000"/>
<text class="lg" x="92" y="142.7">Creative/Abstract</text>
<circle cx="55" cy="165.5" r="9.5" fill="#ffa500"/>
<text class="lg" x="92" y="173.2">Knowledge/Retrieval</text>
</g>
</svg>
